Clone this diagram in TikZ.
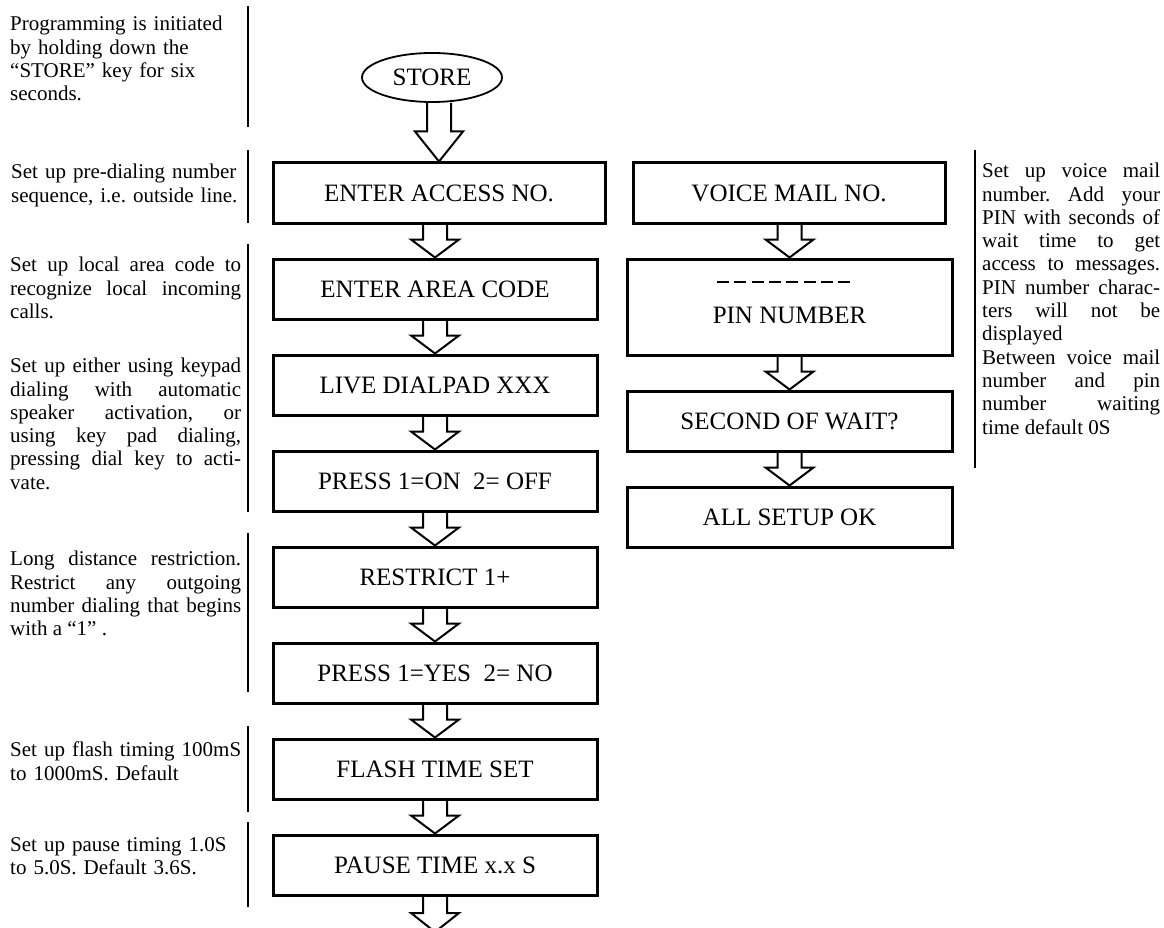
\documentclass[tikz,border=0pt]{standalone}
\usepackage{fontspec}
\setmainfont{Liberation Serif}
\usetikzlibrary{calc,shapes.geometric}
\tolerance=10000
\hbadness=10000
\frenchspacing

\newcommand{\flowarrow}[3][18]{%
  \draw[flowarr] ($(#3 |- #2)+(-12,0)$) -- ($(#3)+(-12,-#1)$) -- ($(#3)+(-24,-#1)$) -- (#3)
    -- ($(#3)+(24,-#1)$) -- ($(#3)+(12,-#1)$) -- ($(#3 |- #2)+(12,0)$);}

\begin{document}
\begin{tikzpicture}[x=1pt,y=-1pt,
  stepbox/.style={draw,line width=3pt,minimum width=324pt,minimum height=60pt,inner sep=0pt,
    font=\fontsize{25}{30}\selectfont},
  flowarr/.style={line width=2pt,line join=miter},
  sidetext/.style={anchor=north west,inner sep=0pt,text width=231pt,align=justify,
    font=\fontsize{21}{23.3}\selectfont},
  plaintext/.style={sidetext,text width=236pt,align=left},
  sideline/.style={line width=2pt},
  pinline/.style={line width=2pt,dash pattern=on 12pt off 5.3pt}]
  \useasboundingbox (0,0) rectangle (1164,928);

  \node[draw,ellipse,line width=1.8pt,minimum width=140pt,minimum height=49pt,inner sep=0pt,
    font=\fontsize{25}{30}\selectfont] (store) at (432,77.5) {STORE};

  \node[stepbox,minimum width=332pt] (access) at (439,193) {ENTER ACCESS NO.};
  \node[stepbox] (area) at (435,289) {ENTER AREA CODE};
  \node[stepbox] (dialpad) at (435,385) {LIVE DIALPAD XXX};
  \node[stepbox] (speaker) at (435,481) {PRESS 1=ON~~2= OFF};
  \node[stepbox] (restrict) at (435,577) {RESTRICT 1+};
  \node[stepbox] (confirm) at (435,673) {PRESS 1=YES~~2= NO};
  \node[stepbox] (flash) at (435,769) {FLASH TIME SET};
  \node[stepbox] (pause) at (435,865) {PAUSE TIME x.x S};
  \coordinate (pauseend) at (435,932);

  \node[stepbox,minimum width=312pt] (voicemail) at (789,193) {VOICE MAIL NO.};
  \node[stepbox,minimum width=325pt,minimum height=96pt] (pin) at (789.5,307) {};
  \node[inner sep=0pt,font=\fontsize{25}{30}\selectfont] (pinlabel) at (789.5,315) {PIN NUMBER};
  \draw[pinline] ($(pin.north)+(-72.5,24)$) -- ($(pin.north)+(60.5,24)$);
  \node[stepbox,minimum width=325pt] (wait) at (789.5,421) {SECOND OF WAIT?};
  \node[stepbox,minimum width=325pt] (setupok) at (789.5,517) {ALL SETUP OK};

  \flowarrow[30]{store.south}{access.north}
  \flowarrow{access.south}{area.north}
  \flowarrow{area.south}{dialpad.north}
  \flowarrow{dialpad.south}{speaker.north}
  \flowarrow{speaker.south}{restrict.north}
  \flowarrow{restrict.south}{confirm.north}
  \flowarrow{confirm.south}{flash.north}
  \flowarrow{flash.south}{pause.north}
  \flowarrow[19]{pause.south}{pauseend}
  \flowarrow{voicemail.south}{pin.north}
  \flowarrow{pin.south}{wait.north}
  \flowarrow{wait.south}{setupok.north}

  \node[plaintext] (note1) at (10,16) {Programming is initiated\\by holding down the\\“STORE” key for six\\seconds.};
  \node[plaintext] (note2) at (11,164) {Set up pre-dialing number\\sequence, i.e. outside line.};
  \node[sidetext] (note3) at (10,257) {Set up local area code to\linebreak recognize local incoming\linebreak calls.};
  \node[sidetext] (note4) at (10,358) {Set up either using keypad\linebreak dialing with automatic\linebreak speaker activation, or\linebreak using key pad dialing,\linebreak pressing dial key to acti-\linebreak vate.};
  \node[sidetext] (note5) at (10,551) {Long distance restriction.\linebreak Restrict any outgoing\linebreak number dialing that begins\linebreak with a “1” .};
  \node[plaintext] (note6) at (10,742) {Set up flash timing 100mS\\to 1000mS. Default};
  \node[plaintext] (note7) at (10,837) {Set up pause timing 1.0S\\to 5.0S. Default 3.6S.};
  \node[sidetext,text width=178pt] (mailnote) at (982,163) {Set up voice mail\linebreak number. Add your\linebreak PIN with seconds of\linebreak wait time to get\linebreak access to messages.\linebreak PIN number charac-\linebreak ters will not be\linebreak displayed\\Between voice mail\linebreak number and pin\linebreak number waiting\linebreak time default 0S};

  \draw[sideline] (248,6) -- (248,127);
  \draw[sideline] (248,150) -- (248,223);
  \draw[sideline] (248,244) -- (248,512);
  \draw[sideline] (248,533) -- (248,692);
  \draw[sideline] (248,726) -- (248,812);
  \draw[sideline] (248,822) -- (248,907);
  \draw[sideline,line width=2.4pt] (975,150) -- (975,468);
\end{tikzpicture}
\end{document}
